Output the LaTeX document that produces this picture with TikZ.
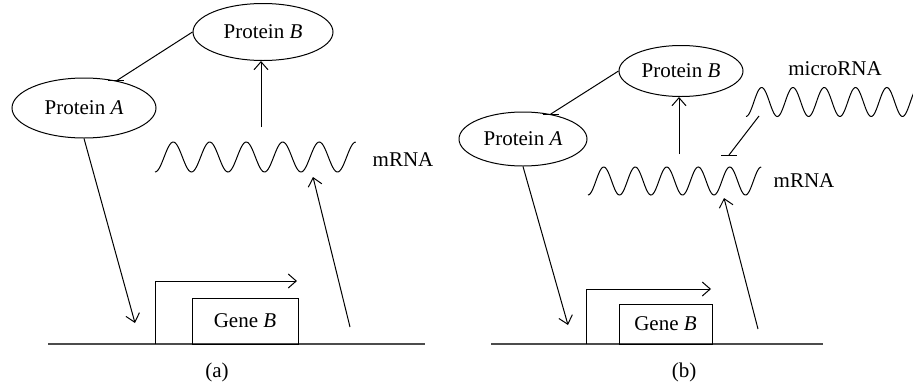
\documentclass[tikz,border=0pt]{standalone}
\usepackage{fontspec}
\setmainfont{Liberation Serif}
\usetikzlibrary{shapes.geometric,arrows.meta}

\begin{document}
\begin{tikzpicture}[x=1pt,y=-1pt,line width=1pt,
        >={Straight Barb[length=8pt,width=14pt]},
        every node/.style={font=\fontsize{21}{25}\selectfont},
        protein/.style={draw,ellipse,inner sep=0pt},
        genebox/.style={draw,rectangle,inner sep=0pt},
        dna/.style={line width=1.6pt,black!70}]
        \useasboundingbox (0,0) rectangle (913,389);

        % (a) proteins
        \node[protein,minimum width=140pt,minimum height=57pt] (pbA) at (263,32) {Protein \textit{B}};
        \node[protein,minimum width=144pt,minimum height=60pt] (paA) at (84,108) {Protein \textit{A}};
        \draw (pbA.west) -- (paA.40);
        \draw ([xshift=-8pt]paA.40) -- ([xshift=8pt]paA.40);

        % (a) mRNA
        \draw plot[variable=\t,domain=0:5.5,samples=150,smooth] ({155+36.5*\t},{157+15*cos(360*\t)});
        \node (mrnaA) at (403,160) {mRNA};
        \coordinate (upA) at (261,127);
        \draw[->] (upA) -- (upA |- pbA.south);

        % (a) gene
        \draw[dna] (48,344) -- (425,344);
        \node[genebox,minimum width=106pt,minimum height=46pt] (geneA) at (245,321) {Gene \textit{B}};
        \draw[->] (155,344) |- (297,281);
        \coordinate (bindA) at (135,323);
        \coordinate (txA) at (350,327);
        \coordinate (rnaA) at (313,177);
        \draw[->] (paA.south) -- (bindA);
        \draw[->] (txA) -- (rnaA);
        \node (labA) at (217,372) {(a)};

        % (b) proteins
        \node[protein,minimum width=124pt,minimum height=51pt] (pbB) at (681,71) {Protein \textit{B}};
        \node[protein,minimum width=128pt,minimum height=54pt] (paB) at (523,139) {Protein \textit{A}};
        \draw (pbB.west) -- (paB.42);
        \draw ([xshift=-8pt]paB.42) -- ([xshift=8pt]paB.42);

        % (b) mRNA and microRNA
        \draw plot[variable=\t,domain=0:5.5,samples=150,smooth] ({588+31.5*\t},{181+14*cos(360*\t)});
        \node (mrnaB) at (804,181) {mRNA};
        \coordinate (upB) at (679,154);
        \draw[->] (upB) -- (upB |- pbB.south);
        \draw plot[variable=\t,domain=0:5.5,samples=150,smooth] ({746+31.3*\t},{102+14.5*cos(360*\t)});
        \node (mirB) at (835,69) {microRNA};
        \coordinate (mirOut) at (759,116);
        \coordinate (mirIn) at (729,155);
        \draw (mirOut) -- (mirIn);
        \draw ([xshift=-8pt]mirIn) -- ([xshift=8pt]mirIn);

        % (b) gene
        \draw[dna] (491,344) -- (823,344);
        \node[genebox,minimum width=93pt,minimum height=40pt] (geneB) at (665.5,324) {Gene \textit{B}};
        \draw[->] (586,344) |- (711,289);
        \coordinate (bindB) at (568,325);
        \coordinate (txB) at (758,329);
        \coordinate (rnaB) at (724,198);
        \draw[->] (paB.south) -- (bindB);
        \draw[->] (txB) -- (rnaB);
        \node (labB) at (684,372) {(b)};
    \end{tikzpicture}
\end{document}
